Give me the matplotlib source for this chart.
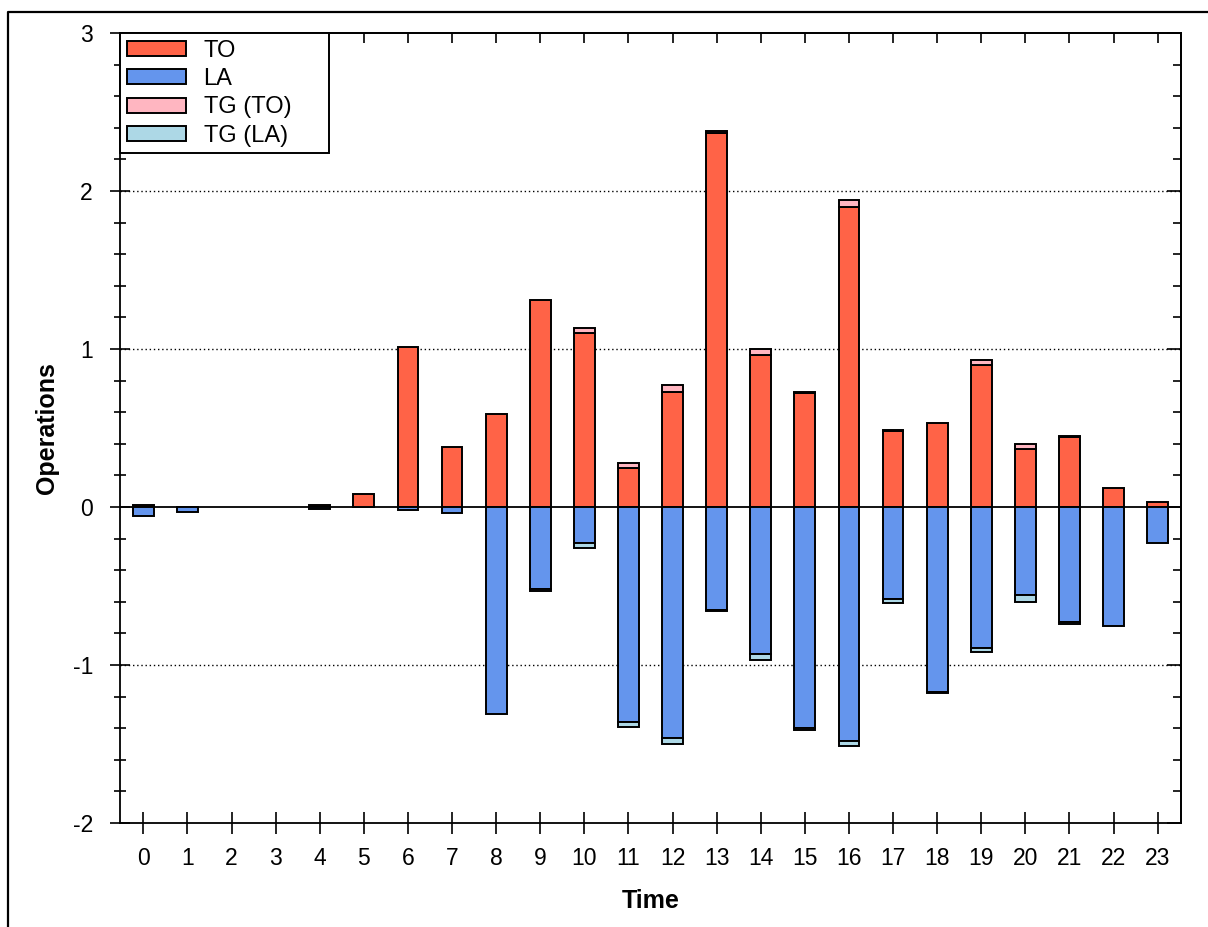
import numpy as np
import matplotlib
matplotlib.use("Agg")
import matplotlib.pyplot as plt
from matplotlib.lines import Line2D
from matplotlib.patches import Patch
from matplotlib.ticker import MultipleLocator

hours = list(range(24))
to_vals = [0.01, 0, 0, 0, 0.01, 0.08, 1.01, 0.38, 0.59, 1.31, 1.10, 0.25,
           0.73, 2.37, 0.96, 0.72, 1.90, 0.48, 0.53, 0.90, 0.37, 0.44, 0.12, 0.03]
tg_to_vals = [0, 0, 0, 0, 0, 0, 0, 0, 0, 0, 0.03, 0.03,
              0.04, 0.01, 0.04, 0.01, 0.04, 0.01, 0, 0.03, 0.03, 0.01, 0, 0]
la_vals = [-0.06, -0.03, 0, 0, -0.01, 0, -0.02, -0.04, -1.31, -0.52, -0.23, -1.36,
           -1.46, -0.65, -0.93, -1.40, -1.48, -0.58, -1.17, -0.89, -0.56, -0.73, -0.75, -0.23]
tg_la_vals = [0, 0, 0, 0, 0, 0, 0, 0, 0, -0.01, -0.03, -0.03,
              -0.04, -0.01, -0.04, -0.01, -0.03, -0.025, -0.01, -0.025, -0.04, -0.01, 0, 0]
series_names = ['TO', 'LA', 'TG (TO)', 'TG (LA)']
series_colors = ['#FF6347', '#6495ED', '#FFB6C1', '#ADD8E6']

plt.rcParams['font.family'] = ['Liberation Sans', 'DejaVu Sans']
plt.rcParams['axes.unicode_minus'] = False

W, H = 1208, 927
fig = plt.figure(figsize=(W / 100, H / 100), dpi=100)
ax = fig.add_axes([120 / W, 1 - 823 / H, (1181 - 120) / W, (823 - 33) / H])

x = np.array(hours)
to = np.array(to_vals)
tg_to = np.array(tg_to_vals)
la = np.array(la_vals)
tg_la = np.array(tg_la_vals)

bw = 0.47
lw_bar = 1.4
def lws(v):
    return [lw_bar if abs(a) > 0 else 0 for a in v]

ax.bar(x, to, bw, color=series_colors[0], edgecolor='black', linewidth=lws(to), zorder=3)
ax.bar(x, la, bw, color=series_colors[1], edgecolor='black', linewidth=lws(la), zorder=3)
ax.bar(x, tg_to, bw, bottom=to, color=series_colors[2], edgecolor='black',
       linewidth=lws(tg_to), zorder=3)
ax.bar(x, tg_la, bw, bottom=la, color=series_colors[3], edgecolor='black',
       linewidth=lws(tg_la), zorder=3)

ax.axhline(0, color='black', linewidth=1.3, zorder=2)
for gy in (-1, 1, 2):
    ax.axhline(gy, color='black', linewidth=1.0, linestyle=(0, (1, 2)), zorder=1)

ax.set_xlim(-0.53, 23.53)
ax.set_ylim(-2, 3)
ax.set_xticks(x)
ax.set_xticklabels([str(h) for h in hours])
ax.yaxis.set_major_locator(MultipleLocator(1))
ax.yaxis.set_minor_locator(MultipleLocator(0.2))

for s in ax.spines.values():
    s.set_linewidth(1.3)

tick_size = 16.5
ax.tick_params(axis='x', which='major', direction='inout', length=16, width=1.2,
               labelsize=tick_size, pad=9, top=False)
ax.tick_params(axis='y', which='major', direction='inout', length=15, width=1.2,
               labelsize=tick_size, pad=12, right=False)
ax.tick_params(axis='y', which='minor', direction='inout', length=8, width=1.2, right=False)

ax_top = ax.secondary_xaxis('top')
ax_top.set_xticks(x)
ax_top.tick_params(direction='in', length=7, width=1.2, labeltop=False)
ax_top.spines['top'].set_linewidth(1.3)
ax_r = ax.secondary_yaxis('right')
ax_r.yaxis.set_major_locator(MultipleLocator(1))
ax_r.yaxis.set_minor_locator(MultipleLocator(0.2))
ax_r.tick_params(which='major', direction='in', length=10, width=1.2, labelright=False)
ax_r.tick_params(which='minor', direction='in', length=6, width=1.2)
ax_r.spines['right'].set_linewidth(1.3)

ax.set_xlabel('Time', fontsize=18, fontweight='bold', labelpad=14)
ax.set_ylabel('Operations', fontsize=18, fontweight='bold', labelpad=10)

handles = [Patch(facecolor=c, edgecolor='black', linewidth=1.4) for c in series_colors]
leg = ax.legend(handles, series_names, loc='upper left',
                bbox_to_anchor=(0, 1, 209 / 1061, 0), mode='expand', borderaxespad=0,
                fontsize=17, fancybox=False, edgecolor='black', framealpha=1,
                handlelength=2.5, handleheight=0.6, handletextpad=0.76,
                labelspacing=0.27, borderpad=0.28)
leg.get_frame().set_linewidth(1.4)
leg.set_zorder(5)

fig.add_artist(Line2D([8 / W, 8 / W, 1.01], [-0.01, 1 - 12 / H, 1 - 12 / H],
                      transform=fig.transFigure, color='black', linewidth=1.6))

fig.savefig('out.png', dpi=100)
